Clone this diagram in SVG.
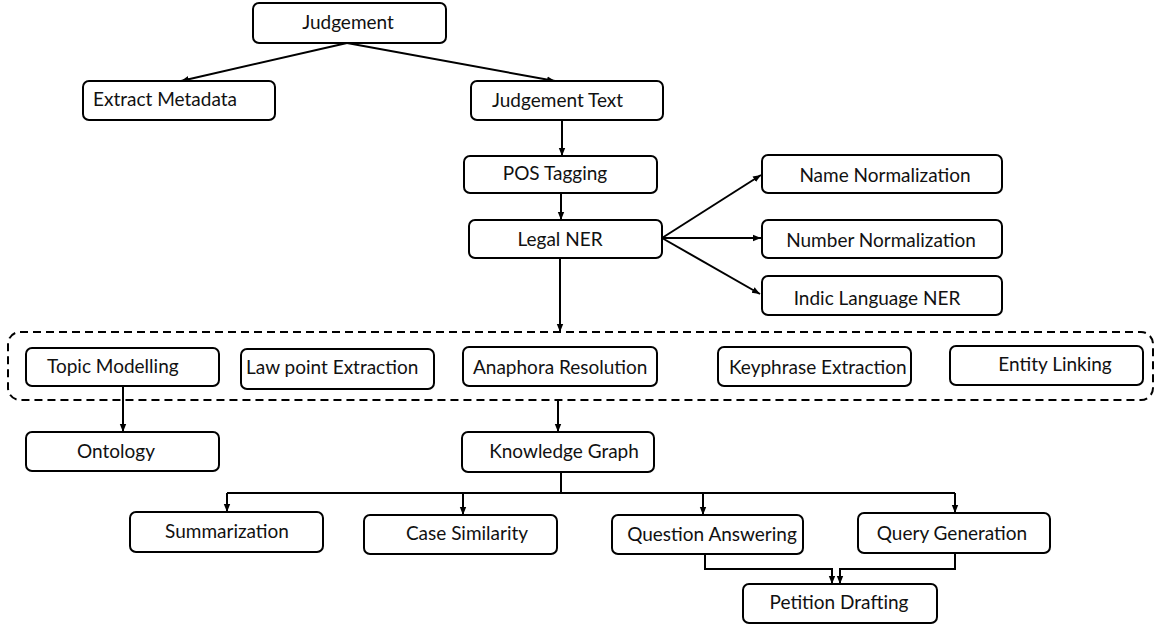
<svg xmlns="http://www.w3.org/2000/svg" width="1156" height="627" viewBox="0 0 1156 627">
<style>
.box{fill:#fff;stroke:#000;stroke-width:2}
.lbl{font-family:Lato,"Open Sans","Liberation Sans",sans-serif;font-size:19px;fill:#111}
.c{text-anchor:middle}
.s{text-anchor:start}
.ln{fill:none;stroke:#000;stroke-width:2}
.dash{fill:none;stroke:#000;stroke-width:2;stroke-dasharray:8 5}
</style>
<defs>
<marker id="ah" markerUnits="userSpaceOnUse" markerWidth="8" markerHeight="8" viewBox="0 0 8 8" refX="8" refY="4" orient="auto">
<path d="M0,0.8 L8,4 L0,7.2 Z" fill="#000"/>
</marker>
</defs>
<rect width="1156" height="627" fill="#fff"/>
<g id="connectors">
<line class="ln" x1="347" y1="43" x2="181" y2="81" marker-end="url(#ah)"/>
<line class="ln" x1="347" y1="43" x2="555" y2="81" marker-end="url(#ah)"/>
<line class="ln" x1="562" y1="120" x2="562" y2="156" marker-end="url(#ah)"/>
<line class="ln" x1="561" y1="193" x2="561" y2="220" marker-end="url(#ah)"/>
<line class="ln" x1="560" y1="258" x2="560" y2="332" marker-end="url(#ah)"/>
<line class="ln" x1="662" y1="238" x2="761" y2="175" marker-end="url(#ah)"/>
<line class="ln" x1="662" y1="238" x2="761" y2="238" marker-end="url(#ah)"/>
<line class="ln" x1="662" y1="238" x2="760" y2="294" marker-end="url(#ah)"/>
<line class="ln" x1="123" y1="386" x2="123" y2="432" marker-end="url(#ah)"/>
<line class="ln" x1="558" y1="400" x2="558" y2="432" marker-end="url(#ah)"/>
<path class="ln" d="M561 472 V493 M227 493 H955"/>
<line class="ln" x1="227" y1="493" x2="227" y2="512" marker-end="url(#ah)"/>
<line class="ln" x1="463" y1="493" x2="463" y2="515" marker-end="url(#ah)"/>
<line class="ln" x1="703" y1="493" x2="703" y2="515" marker-end="url(#ah)"/>
<line class="ln" x1="955" y1="493" x2="955" y2="513" marker-end="url(#ah)"/>
<path class="ln" d="M705 554 V569 H832 V584" marker-end="url(#ah)"/>
<path class="ln" d="M955 553 V569 H840 V584" marker-end="url(#ah)"/>
</g>
<g id="group-analysis">
<rect class="dash" x="8" y="332" width="1145" height="68" rx="12"/>
</g>
<g id="n-judgement"><rect class="box" x="253" y="3" width="193" height="40" rx="6"/><text class="lbl c" x="348" y="29">Judgement</text></g>
<g id="n-extract-metadata"><rect class="box" x="83" y="81" width="192" height="39" rx="6"/><text class="lbl s" x="93" y="106">Extract Metadata</text></g>
<g id="n-judgement-text"><rect class="box" x="471" y="81" width="192" height="39" rx="6"/><text class="lbl s" x="492" y="107">Judgement Text</text></g>
<g id="n-pos-tagging"><rect class="box" x="464" y="156" width="193" height="37" rx="6"/><text class="lbl c" x="555" y="180">POS Tagging</text></g>
<g id="n-legal-ner"><rect class="box" x="469" y="220" width="193" height="38" rx="6"/><text class="lbl c" x="560" y="246">Legal NER</text></g>
<g id="n-name-norm"><rect class="box" x="762" y="155" width="240" height="38" rx="6"/><text class="lbl c" x="885" y="182">Name Normalization</text></g>
<g id="n-number-norm"><rect class="box" x="762" y="220" width="240" height="38" rx="6"/><text class="lbl c" x="881" y="247">Number Normalization</text></g>
<g id="n-indic-ner"><rect class="box" x="762" y="276" width="240" height="39" rx="6"/><text class="lbl c" x="877" y="305">Indic Language NER</text></g>
<g id="n-topic"><rect class="box" x="26" y="348" width="193" height="38" rx="6"/><text class="lbl s" x="47" y="373">Topic Modelling</text></g>
<g id="n-lawpoint"><rect class="box" x="241" y="349" width="193" height="40" rx="6"/><text class="lbl s" x="246" y="374">Law point Extraction</text></g>
<g id="n-anaphora"><rect class="box" x="463" y="347" width="194" height="39" rx="6"/><text class="lbl s" x="473" y="374">Anaphora Resolution</text></g>
<g id="n-keyphrase"><rect class="box" x="718" y="347" width="193" height="39" rx="6"/><text class="lbl s" x="729" y="374">Keyphrase Extraction</text></g>
<g id="n-entity"><rect class="box" x="950" y="346" width="193" height="39" rx="6"/><text class="lbl c" x="1055" y="371">Entity Linking</text></g>
<g id="n-ontology"><rect class="box" x="26" y="432" width="193" height="39" rx="6"/><text class="lbl c" x="116" y="458">Ontology</text></g>
<g id="n-kg"><rect class="box" x="462" y="432" width="192" height="40" rx="6"/><text class="lbl c" x="564" y="458">Knowledge Graph</text></g>
<g id="n-summ"><rect class="box" x="130" y="512" width="193" height="40" rx="6"/><text class="lbl c" x="227" y="538">Summarization</text></g>
<g id="n-case"><rect class="box" x="364" y="515" width="193" height="39" rx="6"/><text class="lbl c" x="467" y="540">Case Similarity</text></g>
<g id="n-qa"><rect class="box" x="612" y="515" width="191" height="39" rx="6"/><text class="lbl c" x="712" y="541">Question Answering</text></g>
<g id="n-qg"><rect class="box" x="858" y="513" width="192" height="40" rx="6"/><text class="lbl c" x="952" y="540">Query Generation</text></g>
<g id="n-petition"><rect class="box" x="743" y="584" width="194" height="39" rx="6"/><text class="lbl c" x="839" y="609">Petition Drafting</text></g>
</svg>
